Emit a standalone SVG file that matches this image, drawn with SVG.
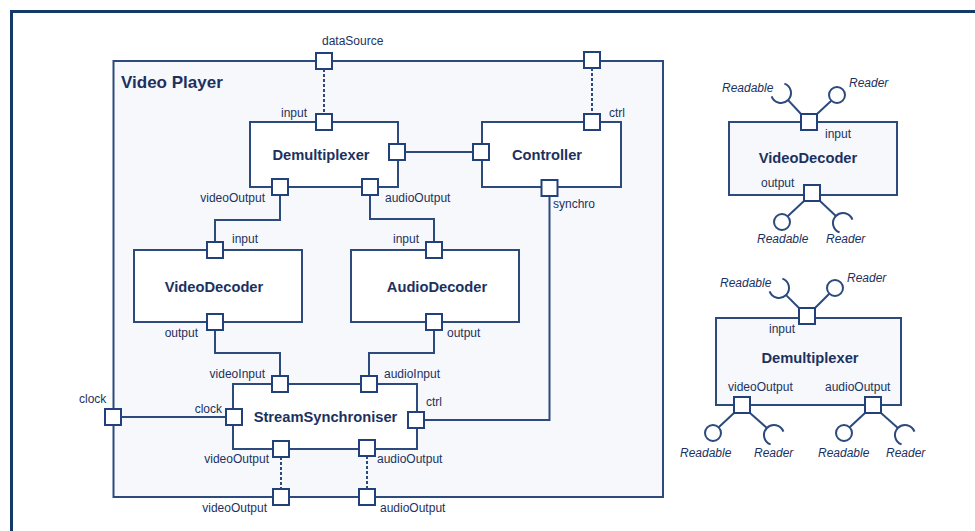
<svg xmlns="http://www.w3.org/2000/svg" width="975" height="531" viewBox="0 0 975 531">
<style>
.frame{fill:#f7f8fb;stroke:#2c4a7c;stroke-width:2}
.box{fill:#ffffff;stroke:#2c4a7c;stroke-width:2}
.cbox{fill:#f6f8fb;stroke:#2c4a7c;stroke-width:2}
.port{fill:#ffffff;stroke:#22407a;stroke-width:2}
.wire{fill:none;stroke:#2c4a7c;stroke-width:2}
.dot{fill:none;stroke:#2c4a7c;stroke-width:2;stroke-dasharray:3 2}
.lbl{font-family:"Liberation Sans",Arial,sans-serif;font-size:12px;fill:#1c3160}
.it{font-family:"Liberation Sans",Arial,sans-serif;font-size:12px;font-style:italic;fill:#1c3160}
.name{font-family:"Liberation Sans",Arial,sans-serif;font-size:14.7px;font-weight:bold;fill:#1c3160;text-anchor:middle}
.title{font-family:"Liberation Sans",Arial,sans-serif;font-size:17px;font-weight:bold;fill:#1c3160}
.end{text-anchor:end}
</style>
<rect x="0" y="0" width="975" height="531" fill="#ffffff"/>
<rect x="11.5" y="11.5" width="1000" height="600" fill="#ffffff" stroke="#133a6b" stroke-width="3"/>

<g id="videoPlayer">
<rect class="frame" x="113.5" y="61" width="549.5" height="436"/>
<text class="title" x="121" y="88">Video Player</text>
<rect class="port" x="316" y="53" width="16" height="16"/>
<text class="lbl" x="322" y="45">dataSource</text>
<rect class="port" x="584" y="52" width="16" height="16"/>
<rect class="port" x="105" y="409" width="16" height="16"/>
<text class="lbl" x="79" y="403">clock</text>
<rect class="port" x="273" y="489" width="16" height="16"/>
<text class="lbl end" x="267" y="512">videoOutput</text>
<rect class="port" x="359" y="489" width="16" height="16"/>
<text class="lbl" x="380" y="512">audioOutput</text>
</g>

<g id="connectors">
<path class="wire" d="M405 152 H473"/>
<path class="wire" d="M280 195 V220 H215 V242"/>
<path class="wire" d="M370 195 V219 H434 V242"/>
<path class="wire" d="M215 330 V353 H280 V376"/>
<path class="wire" d="M434 330 V353 H369 V376"/>
<path class="wire" d="M121 417 H226"/>
<path class="wire" d="M549.5 196 V420 H424"/>
<path class="dot" d="M324 69 V114"/>
<path class="dot" d="M592 68 V114"/>
<path class="dot" d="M281 457 V489"/>
<path class="dot" d="M367 456 V489"/>
</g>

<g id="demultiplexer">
<rect class="box" x="250" y="122" width="148" height="65"/>
<text class="name" x="321" y="160">Demultiplexer</text>
<rect class="port" x="316" y="114" width="16" height="16"/>
<text class="lbl end" x="307" y="117">input</text>
<rect class="port" x="389" y="144" width="16" height="16"/>
<rect class="port" x="272" y="179" width="16" height="16"/>
<text class="lbl end" x="265" y="202">videoOutput</text>
<rect class="port" x="362" y="179" width="16" height="16"/>
<text class="lbl" x="385" y="202">audioOutput</text>
</g>

<g id="controller">
<rect class="box" x="482" y="122" width="139" height="65"/>
<text class="name" x="547" y="160">Controller</text>
<rect class="port" x="473" y="144" width="16" height="16"/>
<rect class="port" x="584" y="114" width="16" height="16"/>
<text class="lbl" x="609" y="117">ctrl</text>
<rect class="port" x="541.5" y="180" width="16" height="16"/>
<text class="lbl" x="553" y="208">synchro</text>
</g>

<g id="videoDecoder">
<rect class="box" x="134" y="250" width="168" height="72"/>
<text class="name" x="214" y="292">VideoDecoder</text>
<rect class="port" x="207" y="242" width="16" height="16"/>
<text class="lbl" x="232" y="243">input</text>
<rect class="port" x="207" y="314" width="16" height="16"/>
<text class="lbl end" x="198" y="337">output</text>
</g>

<g id="audioDecoder">
<rect class="box" x="351" y="250" width="168" height="72"/>
<text class="name" x="437" y="292">AudioDecoder</text>
<rect class="port" x="426" y="242" width="16" height="16"/>
<text class="lbl end" x="419" y="243">input</text>
<rect class="port" x="426" y="314" width="16" height="16"/>
<text class="lbl" x="447" y="337">output</text>
</g>

<g id="streamSynchroniser">
<rect class="box" x="233" y="384" width="184" height="65"/>
<text class="name" x="325.5" y="422">StreamSynchroniser</text>
<rect class="port" x="272" y="376" width="16" height="16"/>
<text class="lbl end" x="265" y="378">videoInput</text>
<rect class="port" x="361" y="376" width="16" height="16"/>
<text class="lbl" x="384" y="378">audioInput</text>
<rect class="port" x="226" y="409" width="16" height="16"/>
<text class="lbl end" x="222" y="413">clock</text>
<rect class="port" x="408" y="412" width="16" height="16"/>
<text class="lbl" x="426" y="406">ctrl</text>
<rect class="port" x="273" y="441" width="16" height="16"/>
<text class="lbl end" x="269" y="463">videoOutput</text>
<rect class="port" x="359" y="440" width="16" height="16"/>
<text class="lbl" x="377" y="463">audioOutput</text>
</g>

<g id="videoDecoderSpec">
<rect class="cbox" x="729" y="122" width="168" height="73"/>
<text class="name" x="808" y="163">VideoDecoder</text>
<path class="wire" d="M801 114 L788.1 100.1"/>
<path class="wire" d="M784.4 83.6 A10 10 0 1 1 771.6 96.4"/>
<path class="wire" d="M817 114 L831.3 100.7"/>
<circle class="wire" cx="837" cy="95" r="8"/>
<rect class="port" x="801" y="114" width="16" height="16"/>
<text class="it" x="722" y="92">Readable</text>
<text class="it" x="849" y="87">Reader</text>
<text class="lbl" x="825" y="138">input</text>
<path class="wire" d="M804 201 L787.7 216.3"/>
<circle class="wire" cx="782" cy="222" r="8"/>
<path class="wire" d="M820 201 L835.9 215.9"/>
<path class="wire" d="M839.6 232.4 A10 10 0 1 1 852.4 219.6"/>
<rect class="port" x="804" y="185" width="16" height="16"/>
<text class="lbl" x="761" y="187">output</text>
<text class="it" x="757" y="243">Readable</text>
<text class="it" x="826" y="243">Reader</text>
</g>

<g id="demultiplexerSpec">
<rect class="cbox" x="716" y="318" width="185" height="87"/>
<text class="name" x="810" y="363">Demultiplexer</text>
<path class="wire" d="M799 308 L786.1 295.1"/>
<path class="wire" d="M782.4 278.6 A10 10 0 1 1 769.6 291.4"/>
<path class="wire" d="M815 308 L829.3 293.7"/>
<circle class="wire" cx="835" cy="288" r="8"/>
<rect class="port" x="799" y="308" width="16" height="16"/>
<text class="it" x="720" y="287">Readable</text>
<text class="it" x="847" y="282">Reader</text>
<text class="lbl" x="769" y="333">input</text>
<path class="wire" d="M734 413 L718.7 427.3"/>
<circle class="wire" cx="713" cy="433" r="8"/>
<path class="wire" d="M750 413 L766.9 427.9"/>
<path class="wire" d="M770.6 444.4 A10 10 0 1 1 783.4 431.6"/>
<rect class="port" x="734" y="397" width="16" height="16"/>
<text class="lbl" x="728" y="391">videoOutput</text>
<path class="wire" d="M865 413 L849.7 427.3"/>
<circle class="wire" cx="844" cy="433" r="8"/>
<path class="wire" d="M881 413 L897.9 427.9"/>
<path class="wire" d="M901.6 444.4 A10 10 0 1 1 914.4 431.6"/>
<rect class="port" x="865" y="397" width="16" height="16"/>
<text class="lbl" x="825" y="391">audioOutput</text>
<text class="it" x="680" y="457">Readable</text>
<text class="it" x="754" y="457">Reader</text>
<text class="it" x="818" y="457">Readable</text>
<text class="it" x="886" y="457">Reader</text>
</g>
</svg>
